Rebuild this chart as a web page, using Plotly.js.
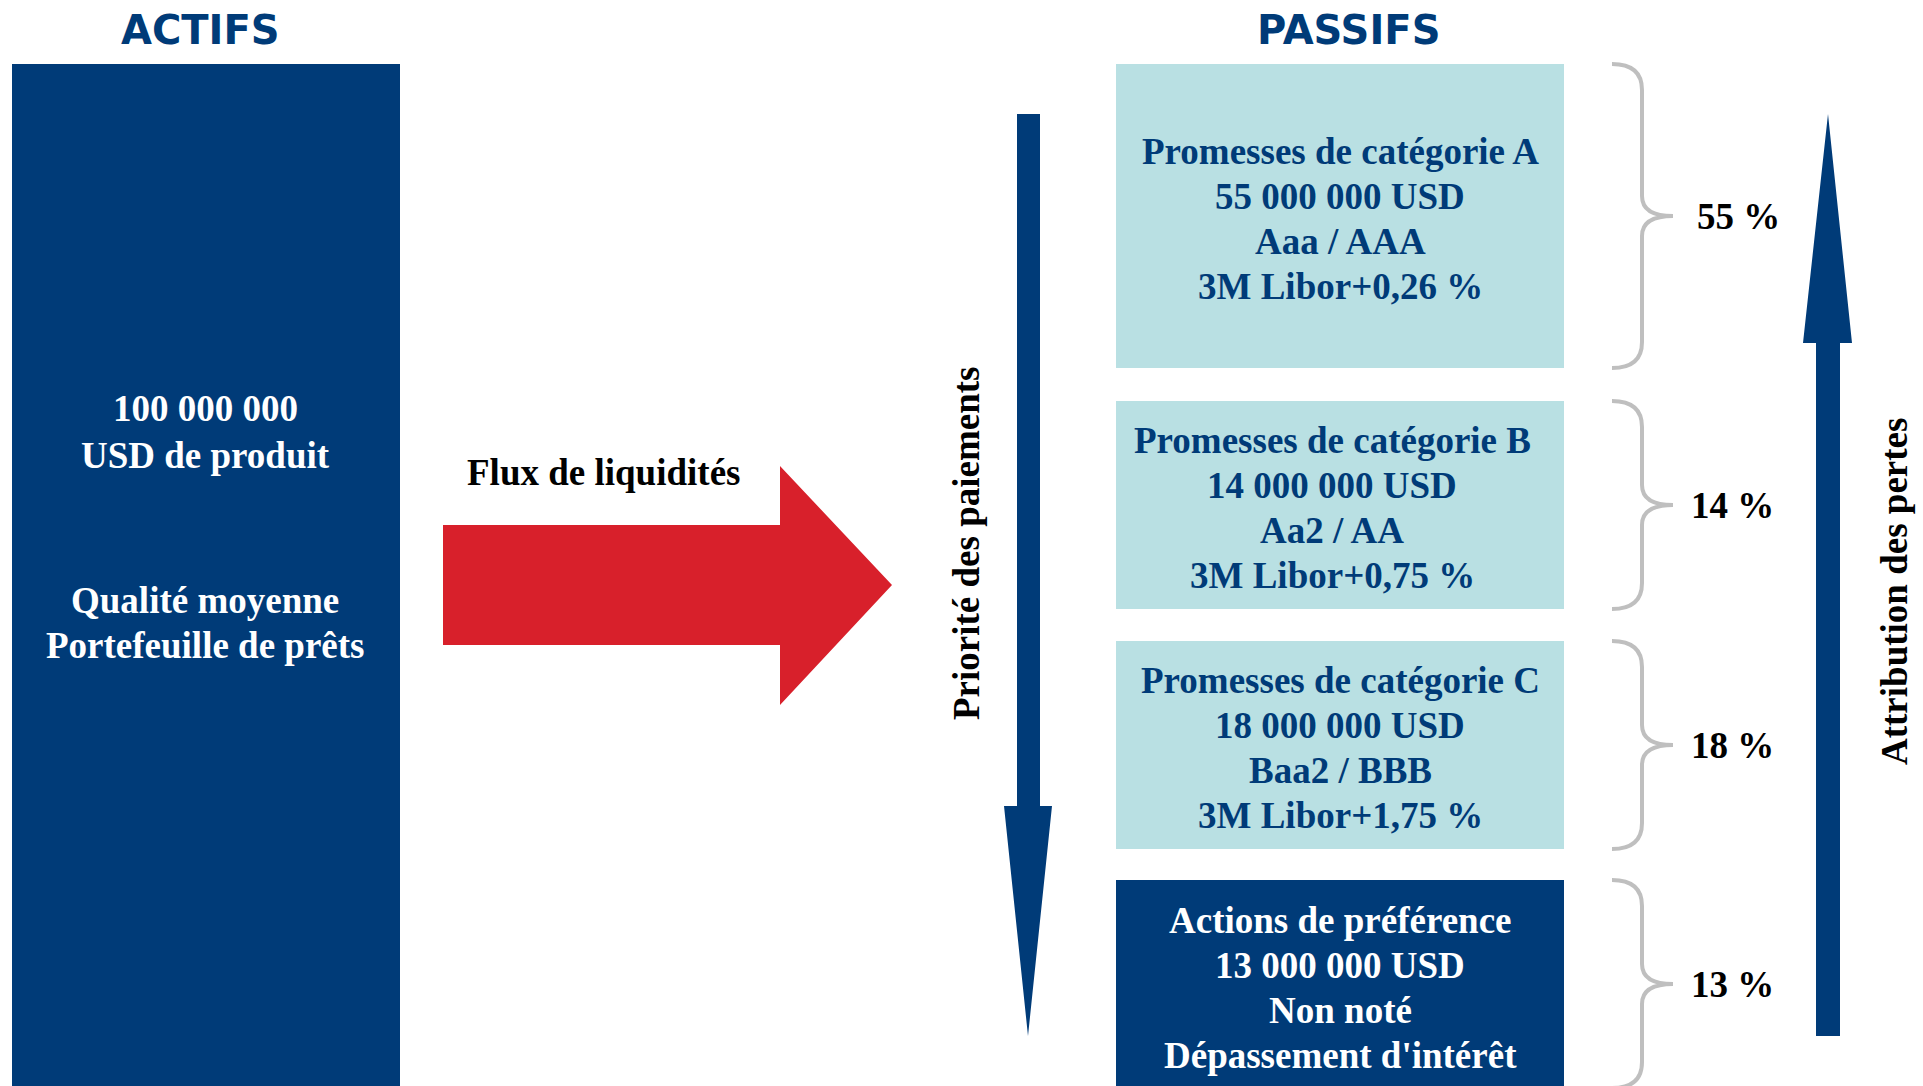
<!DOCTYPE html>
<html>
<head>
<meta charset="utf-8">
<script src="https://cdn.plot.ly/plotly-3.0.1.min.js"></script>
<style>html,body{margin:0;padding:0;background:#fff;}#chart{width:1923px;height:1086px;}</style>
</head>
<body>
<div id="chart"></div>
<script>
// ---------- DATA ----------
const sideTitles = ['ACTIFS', 'PASSIFS'];
const assetAmount = 100000000;
const assetLines = ['USD de produit', 'Qualité moyenne', 'Portefeuille de prêts'];
const trancheNames = ['Promesses de catégorie A', 'Promesses de catégorie B', 'Promesses de catégorie C', 'Actions de préférence'];
const trancheAmounts = [55000000, 14000000, 18000000, 13000000];
const trancheRatings = ['Aaa / AAA', 'Aa2 / AA', 'Baa2 / BBB', 'Non noté'];
const trancheTerms = ['3M Libor+0,26 %', '3M Libor+0,75 %', '3M Libor+1,75 %', "Dépassement d'intérêt"];
const tranchePct = [55, 14, 18, 13];
const flowLabel = 'Flux de liquidités';
const priorityLabel = 'Priorité des paiements';
const lossLabel = 'Attribution des pertes';

// ---------- LAYOUT / STYLE ----------
const W = 1923, H = 1086;
const NAVY = '#003B78', TEAL = '#B9E0E3', RED = '#D8202B', GREY = '#BFBFBF';
const SERIF = 'Liberation Serif, Times New Roman, serif';
const FS = 37, LS = 44.7;
const box = {x0: 1116, x1: 1564, tops: [64, 401, 641, 880], bottoms: [368, 609, 849, 1092]};
const textCenters = [219, 508, 748, 988];
const boxFill = [TEAL, TEAL, TEAL, NAVY];
const boxText = [NAVY, NAVY, NAVY, '#ffffff'];

function fmt(n) { return String(n).replace(/\B(?=(\d{3})+(?!\d))/g, ' '); }

const shapes = [];
const annotations = [];

function ann(text, x, y, opts) {
  annotations.push(Object.assign({
    text: text, x: x, y: y, xref: 'x', yref: 'y', showarrow: false,
    xanchor: 'center', yanchor: 'middle',
    font: {family: SERIF, size: FS, color: '#000', weight: 'bold'}
  }, opts || {}));
}

// titles
const titleFont = {family: 'DejaVu Sans, sans-serif', size: 40, color: NAVY, weight: 'bold'};
ann(sideTitles[0], 200, 29.5, {font: titleFont});
ann(sideTitles[1], 1348, 29.5, {font: titleFont});

// asset box
shapes.push({type: 'rect', xref: 'x', yref: 'y', x0: 12, x1: 400, y0: 64, y1: 1092, fillcolor: NAVY, line: {width: 0}, layer: 'below'});
const assetY = [408, 455, 600, 645];
const assetTexts = [fmt(assetAmount)].concat(assetLines);
assetTexts.forEach((t, i) => ann(t, 205, assetY[i], {font: {family: SERIF, size: FS, color: '#ffffff', weight: 'bold'}}));

// red flow arrow
shapes.push({type: 'path', xref: 'x', yref: 'y',
  path: 'M443,525 L780,525 L780,466 L892,585 L780,705 L780,645 L443,645 Z',
  fillcolor: RED, line: {width: 0}});
ann(flowLabel, 603, 472);

// priority arrow (down)
shapes.push({type: 'path', xref: 'x', yref: 'y',
  path: 'M1017,114 L1040,114 L1040,806 L1052,806 L1028,1036 L1004,806 L1017,806 Z',
  fillcolor: NAVY, line: {width: 0}});
ann(priorityLabel, 966, 544, {textangle: -90});

// loss arrow (up)
shapes.push({type: 'path', xref: 'x', yref: 'y',
  path: 'M1816,1036 L1840,1036 L1840,343 L1852,343 L1828,114 L1803,343 L1816,343 Z',
  fillcolor: NAVY, line: {width: 0}});
ann(lossLabel, 1894, 592, {textangle: -90});

// tranches
trancheNames.forEach((name, i) => {
  shapes.push({type: 'rect', xref: 'x', yref: 'y', x0: box.x0, x1: box.x1, y0: box.tops[i], y1: box.bottoms[i],
    fillcolor: boxFill[i], line: {width: 0}, layer: 'below'});
  const lines = [name, fmt(trancheAmounts[i]) + ' USD', trancheRatings[i], trancheTerms[i]];
  const xc = (box.x0 + box.x1) / 2 + (i === 1 ? -8 : 0);
  lines.forEach((t, k) => ann(t, xc, textCenters[i] + (k - 1.5) * LS,
    {font: {family: SERIF, size: FS, color: boxText[i], weight: 'bold'}}));

  // brace
  const top = box.tops[i], bot = (i === 3 ? 1088 : box.bottoms[i]);
  const mid = (top + bot) / 2;
  const xs = 1612, xm = 1642, xt = 1673, r = 26;
  const p = `M${xs},${top} Q${xm},${top} ${xm},${top + r} L${xm},${mid - 20} Q${xm},${mid} ${xt},${mid} ` +
            `Q${xm},${mid} ${xm},${mid + 20} L${xm},${bot - r} Q${xm},${bot} ${xs},${bot}`;
  shapes.push({type: 'path', xref: 'x', yref: 'y', path: p, line: {color: GREY, width: 4}});
  ann(tranchePct[i] + ' %', i === 0 ? 1695 : 1689, mid, {xanchor: 'left'});
});

const layout = {
  width: W, height: H,
  margin: {l: 0, r: 0, t: 0, b: 0, pad: 0},
  paper_bgcolor: '#ffffff', plot_bgcolor: '#ffffff',
  xaxis: {range: [0, W], visible: false, fixedrange: true},
  yaxis: {range: [H, 0], visible: false, fixedrange: true},
  showlegend: false,
  shapes: shapes,
  annotations: annotations
};

Plotly.newPlot('chart', [], layout, {staticPlot: true, displayModeBar: false});
</script>
</body>
</html>
